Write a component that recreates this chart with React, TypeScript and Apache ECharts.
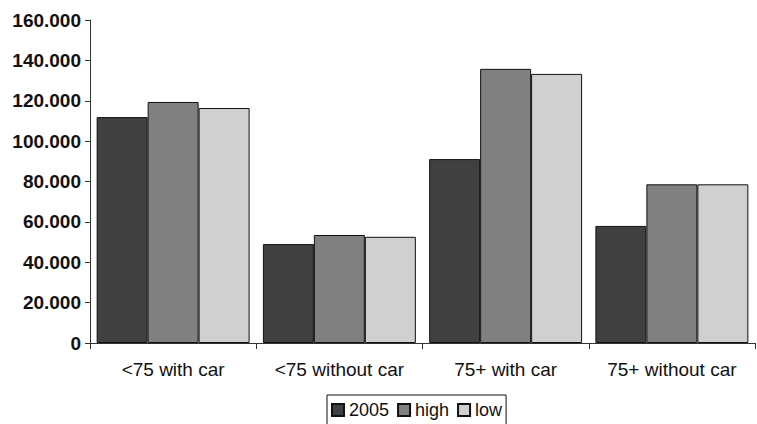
import React, { useEffect, useRef } from "react";
import * as echarts from "echarts";

const categories = ["<75 with car", "<75 without car", "75+ with car", "75+ without car"];
const seriesNames = ["2005", "high", "low"];
const values2005 = [111900, 49000, 91100, 58000];
const valuesHigh = [119400, 53500, 135800, 78600];
const valuesLow = [116400, 52600, 133300, 78600];
const colors = ["#404040", "#808080", "#d0d0d0"];

function fmt(v: number): string {
  if (v === 0) return "0";
  const s = String(Math.round(v));
  return s.replace(/\B(?=(\d{3})+(?!\d))/g, ".");
}

const FONT = "Liberation Sans, Arial, Helvetica, sans-serif";

export default function App() {
  const ref = useRef<HTMLDivElement>(null);
  useEffect(() => {
    document.body.style.margin = "0";
    const chart = echarts.init(ref.current!, null, { renderer: "svg" });
    const data = [values2005, valuesHigh, valuesLow];
    chart.setOption({
      animation: false,
      backgroundColor: "#ffffff",
      grid: { left: 90, right: 2, top: 20, bottom: 81 },
      legend: {
        data: seriesNames,
        left: 327,
        top: 395,
        orient: "horizontal",
        itemWidth: 12,
        itemHeight: 12,
        itemGap: 8,
        padding: [6, 4, 14, 4],
        borderColor: "#111",
        borderWidth: 1,
        borderRadius: 0,
        icon: "rect",
        textStyle: { fontFamily: FONT, fontSize: 18, color: "#111", padding: [0, 0, 0, 0] },
      },
      xAxis: {
        type: "category",
        data: categories,
        boundaryGap: true,
        axisLine: { lineStyle: { color: "#333", width: 1 } },
        axisTick: { show: true, length: 6, interval: 0, lineStyle: { color: "#333" } },
        axisLabel: { fontFamily: FONT, fontSize: 19, color: "#111", margin: 17, interval: 0 },
      },
      yAxis: {
        type: "value",
        min: 0,
        max: 160000,
        interval: 20000,
        axisLine: { show: true, lineStyle: { color: "#333", width: 1 } },
        axisTick: { show: true, length: 5, lineStyle: { color: "#333" } },
        splitLine: { show: false },
        axisLabel: {
          fontFamily: FONT,
          fontSize: 19,
          fontWeight: "bold",
          color: "#111",
          margin: 9,
          formatter: (v: number) => fmt(v),
        },
      },
      series: seriesNames.map((name, i) => ({
        name,
        type: "bar",
        data: data[i],
        barGap: "0%",
        barCategoryGap: "8%",
        itemStyle: { color: colors[i], borderColor: "#111", borderWidth: 1 },
      })),
    });
    return () => chart.dispose();
  }, []);
  return <div ref={ref} style={{ width: 757, height: 424 }} />;
}
